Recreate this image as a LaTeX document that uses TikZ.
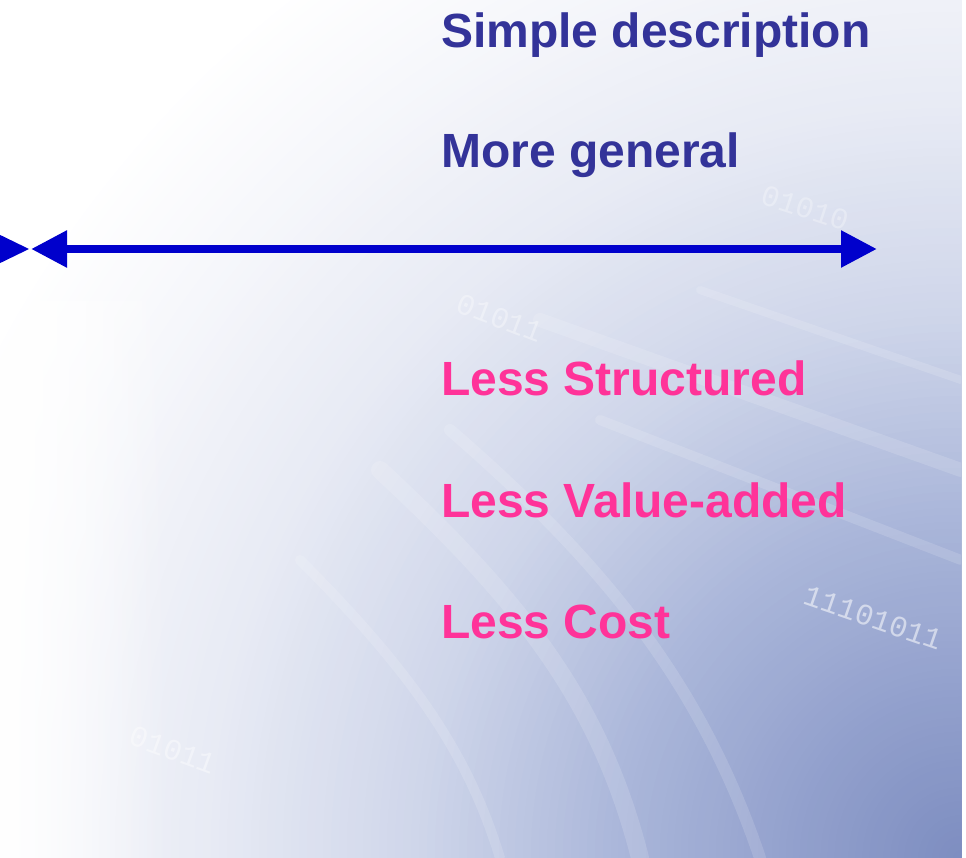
\documentclass[tikz,border=0pt]{standalone}
\usepackage{fontspec}
\setmainfont{Liberation Sans}
\newfontfamily\digitfont{Liberation Mono}
\usetikzlibrary{arrows.meta,fadings}

% text and arrow colours
\definecolor{headblue}{HTML}{333399}
\definecolor{headpink}{HTML}{FF3399}
\definecolor{arrowblue}{HTML}{0000CC}

% background tones, deep blue in the lower right corner fading to white
\definecolor{bgdeep}{HTML}{7D8DC0}
\definecolor{bgmidA}{HTML}{93A1CD}
\definecolor{bgmidB}{HTML}{ABB7DA}
\definecolor{bglight}{HTML}{CFD6EA}
\definecolor{bgpale}{HTML}{E7EAF4}
\definecolor{bgwhite}{HTML}{F6F7FB}

% concentric discs around the lower right corner, blending #3 (outer) into #4 (inner)
\newcommand{\glowband}[4]{%
  \foreach \k in {0,...,24}{%
    \pgfmathsetmacro\rr{#1-(#1-#2)*\k/25}%
    \pgfmathsetmacro\pp{100*\k/25}%
    \fill[#4!\pp!#3] (961,858) circle[radius=\rr];
  }%
}

\tikzfading[name=leftwash, left color=transparent!0, right color=transparent!100]

\tikzset{
  label text/.style={anchor=base west, inner sep=0pt,
    font=\bfseries\fontsize{48}{58}\selectfont},
  bluelabel/.style={label text, text=headblue},
  pinklabel/.style={label text, text=headpink},
  scale arrow/.style={draw=arrowblue, line width=8.5pt,
    {Triangle[length=36pt,width=35pt]}-{Triangle[length=36pt,width=35pt]}},
  bits/.style={inner sep=0pt, text=white, text opacity=0.55,
    font=\digitfont\fontsize{30}{30}\selectfont},
  strand/.style={draw=white, draw opacity=0.14, line cap=round},
}

\begin{document}
\begin{tikzpicture}[x=1pt, y=-1pt]
  \useasboundingbox (0,0) rectangle (966,858);
  \fill[white] (0,0) rectangle (966,858);

  % backdrop
  \begin{scope}
    \clip (0,0) rectangle (961,858);
    \glowband{1100}{950}{white}{bgwhite}
    \glowband{950}{750}{bgwhite}{bgpale}
    \glowband{750}{550}{bgpale}{bglight}
    \glowband{550}{350}{bglight}{bgmidB}
    \glowband{350}{175}{bgmidB}{bgmidA}
    \glowband{175}{0.5}{bgmidA}{bgdeep}
    \fill[white, path fading=leftwash] (0,300) rectangle (170,858);
    % faint cable strands
    \draw[strand, line width=14pt] (540,320) -- (961,470);
    \draw[strand, line width=10pt] (600,420) -- (961,560);
    \draw[strand, line width=8pt] (700,290) -- (961,380);
    \draw[strand, line width=18pt] (380,470) .. controls (520,600) and (600,700) .. (640,858);
    \draw[strand, line width=12pt] (450,430) .. controls (600,560) and (700,680) .. (760,858);
    \draw[strand, line width=10pt] (300,560) .. controls (420,680) and (470,760) .. (500,858);
    % faint binary strings
    \node[bits, rotate=-19] (b1) at (873,618) {11101011};
    \node[bits, rotate=-21, text opacity=0.35] (b2) at (500,318) {01011};
    \node[bits, rotate=-20, text opacity=0.4] (b3) at (173,750) {01011};
    \node[bits, rotate=-18, text opacity=0.3] (b4) at (805,208) {01010};
    % arrow head of a neighbouring scale entering from the left
    \fill[arrowblue] (29,249) -- (-7,231.5) -- (-7,266.5) -- cycle;
  \end{scope}

  % descriptions above and below the scale
  \node[bluelabel] (simple) at (441,48) {Simple description};
  \node[bluelabel] (general) at (441,168) {More general};
  \node[pinklabel] (struct) at (441,395) {Less Structured};
  \node[pinklabel] (value) at (441,517) {Less Value-added};
  \node[pinklabel] (cost) at (441,638) {Less Cost};

  % the two-headed scale
  \coordinate (scaleL) at (31,249);
  \coordinate (scaleR) at (877,249);
  \draw[scale arrow] (scaleL) -- (scaleR);
\end{tikzpicture}
\end{document}
